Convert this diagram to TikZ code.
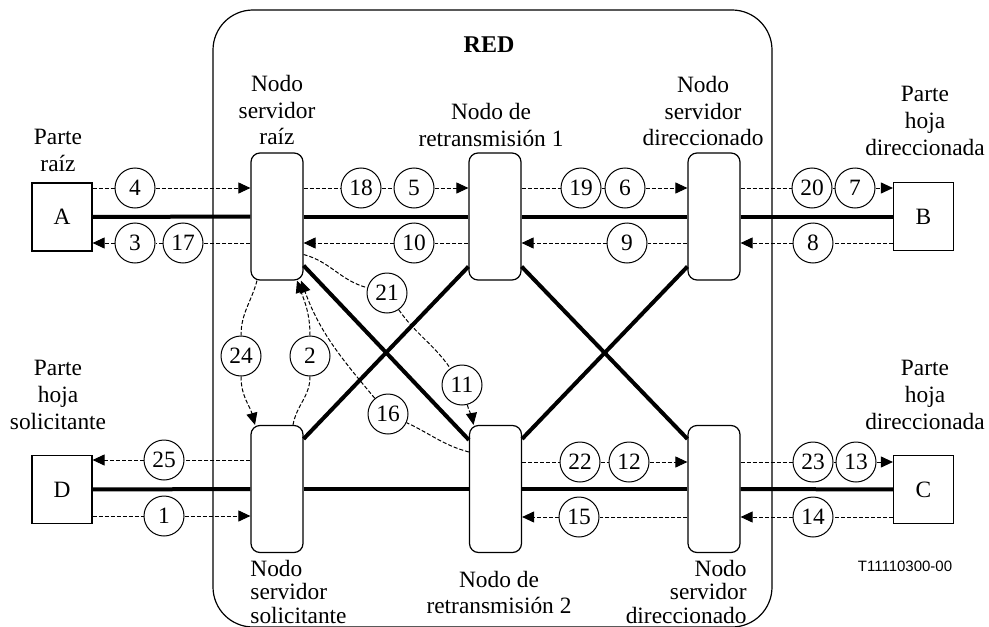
\documentclass[tikz,border=0pt]{standalone}
\usepackage{fontspec}
\setmainfont{Liberation Serif}
\newfontfamily\tagfont{Liberation Sans}
\usetikzlibrary{arrows.meta}

\def\nodewd{26pt}
\def\nodeht{63.5pt}

\begin{document}
\begin{tikzpicture}[x=0.5pt,y=-0.5pt,font=\fontsize{11.7}{13.3}\selectfont]
        \tikzstyle{server}=[draw,line width=0.6pt,rounded corners=4.5pt,minimum width=\nodewd,minimum height=\nodeht,inner sep=0pt]
        \tikzstyle{party}=[draw,line width=0.6pt,minimum width=30pt,minimum height=34pt,inner sep=0pt]
        \tikzstyle{num}=[circle,draw,line width=0.5pt,minimum size=20pt,inner sep=0pt]
        \tikzstyle{link}=[line width=2pt]
        \tikzstyle{msg}=[line width=0.5pt,dash pattern=on 2pt off 1pt,-{Triangle[length=6pt,width=5.5pt]}]
        \tikzstyle{annot}=[align=center,inner sep=0pt]

        \useasboundingbox (0,0) rectangle (989,626);

        % Draw the network boundary
        \draw[line width=0.6pt,rounded corners=20pt] (213,10) rectangle (772,627);
        \node[font=\fontsize{12}{14}\selectfont\bfseries] (red) at (489,45) {RED};

        % Draw the server and relay nodes
        \foreach \name/\x/\y in {raiz/277/216.5,ret1/495/216.5,dir1/714/216.5,sol/277/489,ret2/495.5/489,dir2/714/489}
            \node[server] (N-\name) at (\x,\y) {};

        % Draw the parties
        \foreach \name/\x/\y in {A/62/217,B/923.5/216.5,D/62/489.5,C/923.5/489.5}
            \node[party] (P-\name) at (\x,\y) {\name};

        % Draw the message numbers
        \foreach \n/\x/\y in {4/135/188,3/135/243,17/183/243,18/361/188,5/414/188,10/414/243,
                              19/581/188,6/625/188,9/627/243,20/812/188,7/855/188,8/813/243,
                              25/164/460,1/164/516,22/580/462,12/629/462,15/579/517,
                              23/813/462,13/856/462,14/813/517,
                              24/241/356,2/310/356,21/387/293,11/462/385,16/388/414}
            \node[num] (M-\n) at (\x,\y) {\n};

        % Connect the nodes with the thick lines
        \foreach \a/\b in {P-A/N-raiz,N-raiz/N-ret1,N-ret1/N-dir1,N-dir1/P-B,
                           P-D/N-sol,N-sol/N-ret2,N-ret2/N-dir2,N-dir2/P-C}
            \draw[link] (\a) -- (\b);
        \draw[link] ([yshift=7.5pt]N-raiz.south east) -- ([yshift=-7.5pt]N-ret2.north west);
        \draw[link] ([yshift=-7pt]N-sol.north east) -- ([yshift=7pt]N-ret1.south west);
        \draw[link] ([yshift=7pt]N-ret1.south east) -- ([yshift=-7pt]N-dir2.north west);
        \draw[link] ([yshift=-7pt]N-ret2.north east) -- ([yshift=7pt]N-dir1.south west);

        % Messages in the upper half
        \draw[msg] (P-A.east |- M-4) -- (M-4) -- (N-raiz.west |- M-4);
        \draw[msg] (N-raiz.east |- M-18) -- (M-18) -- (M-5) -- (N-ret1.west |- M-5);
        \draw[msg] (N-ret1.east |- M-19) -- (M-19) -- (M-6) -- (N-dir1.west |- M-6);
        \draw[msg] (N-dir1.east |- M-20) -- (M-20) -- (M-7) -- (P-B.west |- M-7);
        \draw[msg] (N-raiz.west |- M-17) -- (M-17) -- (M-3) -- (P-A.east |- M-3);
        \draw[msg] (N-ret1.west |- M-10) -- (M-10) -- (N-raiz.east |- M-10);
        \draw[msg] (N-dir1.west |- M-9) -- (M-9) -- (N-ret1.east |- M-9);
        \draw[msg] (P-B.west |- M-8) -- (M-8) -- (N-dir1.east |- M-8);

        % Messages in the lower half
        \draw[msg] (N-sol.west |- M-25) -- (M-25) -- (P-D.east |- M-25);
        \draw[msg] (P-D.east |- M-1) -- (M-1) -- (N-sol.west |- M-1);
        \draw[msg] (N-ret2.east |- M-22) -- (M-22) -- (M-12) -- (N-dir2.west |- M-12);
        \draw[msg] (N-dir2.east |- M-23) -- (M-23) -- (M-13) -- (P-C.west |- M-13);
        \draw[msg] (N-dir2.west |- M-15) -- (M-15) -- (N-ret2.east |- M-15);
        \draw[msg] (P-C.west |- M-14) -- (M-14) -- (N-dir2.east |- M-14);

        % Curved messages
        \draw[msg] ([xshift=-10pt]N-raiz.south) to[out=255,in=90] (M-24) to[out=270,in=105] ([xshift=-11pt]N-sol.north);
        \draw[msg] ([xshift=8pt]N-sol.north) to[out=80,in=270] (M-2) to[out=90,in=290] ([xshift=10pt]N-raiz.south);
        \draw[msg] ([yshift=-19pt]N-raiz.east) to[out=-15,in=165] (M-21) to[out=-55,in=125] (M-11) to[out=-75,in=100] ([xshift=-11pt]N-ret2.north);
        \draw[msg] ([yshift=18.5pt]N-ret2.west) to[out=165,in=-25] (M-16) to[out=130,in=-70] ([xshift=12pt]N-raiz.south);

        % Annotate the nodes
        \node[annot] at (58,150.5) {Parte\\raíz};
        \node[annot] at (277,110) {Nodo\\servidor\\raíz};
        \node[annot] at (491,125) {Nodo de\\retransmisión 1};
        \node[annot] at (703,111) {Nodo\\servidor\\direccionado};
        \node[annot] at (925,121) {Parte\\hoja\\direccionada};
        \node[annot] at (58,395) {Parte\\hoja\\solicitante};
        \node[annot] at (925,395) {Parte\\hoja\\direccionada};
        \node[annot] at (499,592.5) {Nodo de\\retransmisión 2};
        \node[annot,align=left,anchor=north west,font=\fontsize{11.7}{11.6}\selectfont] at (250,560) {Nodo\\servidor\\solicitante};
        \node[annot,align=right,anchor=north east,font=\fontsize{11.7}{11.6}\selectfont] at (747,560) {Nodo\\servidor\\direccionado};
        \node[font=\fontsize{7.5}{9}\selectfont\tagfont] at (905,566) {T11110300-00};
    \end{tikzpicture}
\end{document}
